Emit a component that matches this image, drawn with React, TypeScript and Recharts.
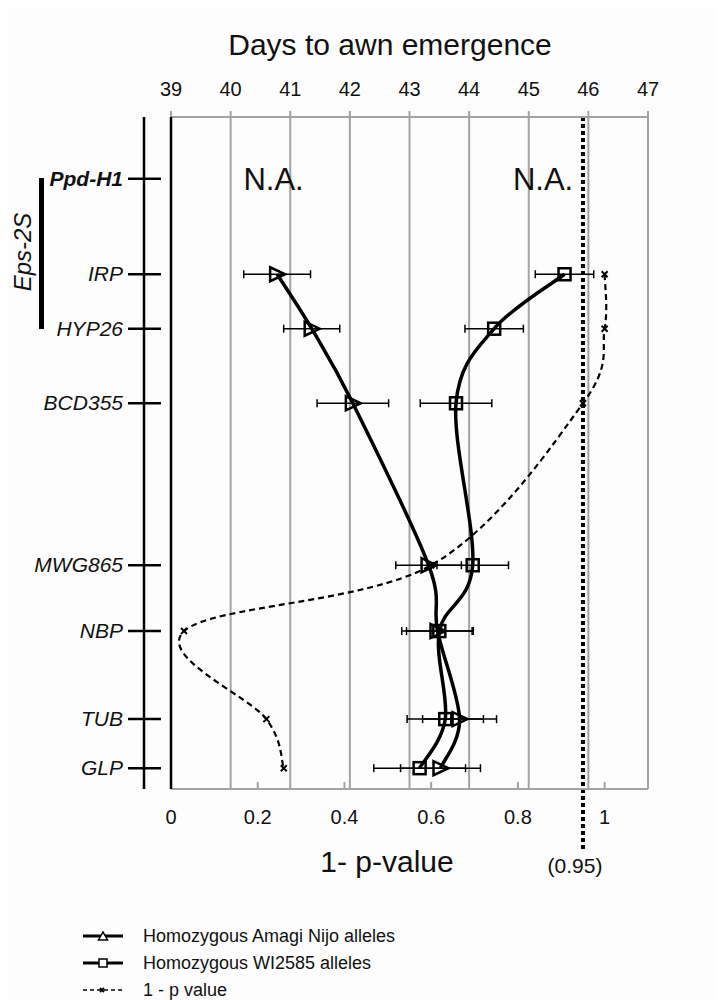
import React from "react";
import {
  CartesianGrid,
  ComposedChart,
  ErrorBar,
  Line,
  ReferenceDot,
  ReferenceLine,
  XAxis,
  YAxis,
} from "recharts";

const FONT = '"Liberation Sans", Arial, Helvetica, sans-serif';

// markers along 2S, with map position (top = 0)
const markers = ["Ppd-H1", "IRP", "HYP26", "BCD355", "MWG865", "NBP", "TUB", "GLP"];
const mapPos = [9.2, 23.4, 31.5, 42.6, 66.7, 76.5, 89.6, 96.9];

// days to awn emergence, mean and error
const amagiDays = [null, 40.78, 41.36, 42.05, 43.32, 43.47, 43.84, 43.52];
const amagiErr = [null, 0.56, 0.47, 0.6, 0.55, 0.6, 0.62, 0.67];
const wiDays = [null, 45.6, 44.42, 43.78, 44.06, 43.5, 43.6, 43.17];
const wiErr = [null, 0.49, 0.49, 0.6, 0.6, 0.55, 0.64, 0.77];

// 1 - p value of the marker test
const pScore = [null, 1.0, 1.0, 0.95, 0.6, 0.03, 0.22, 0.26];

const dayTicks = [39, 40, 41, 42, 43, 44, 45, 46, 47];
const pTicks = [0, 0.2, 0.4, 0.6, 0.8, 1];
const threshold = 0.95;

const rows = markers.map((name, i) => ({
  name,
  pos: mapPos[i],
  amagi: amagiDays[i],
  amagiErr: amagiErr[i],
  wi: wiDays[i],
  wiErr: wiErr[i],
  p: pScore[i],
}));

const GRID = "#a3a3a3";

// Catmull-Rom style smoothing (spreadsheet "smoothed line")
function smoothCurve(context: any) {
  let pts: number[][] = [];
  return {
    areaStart() {},
    areaEnd() {},
    lineStart() {
      pts = [];
    },
    point(x: number, y: number) {
      pts.push([+x, +y]);
    },
    lineEnd() {
      if (!pts.length) return;
      context.moveTo(pts[0][0], pts[0][1]);
      for (let i = 0; i < pts.length - 1; i++) {
        const p0 = pts[i - 1] || pts[i];
        const p1 = pts[i];
        const p2 = pts[i + 1];
        const p3 = pts[i + 2] || p2;
        context.bezierCurveTo(
          p1[0] + (p2[0] - p0[0]) / 6,
          p1[1] + (p2[1] - p0[1]) / 6,
          p2[0] - (p3[0] - p1[0]) / 6,
          p2[1] - (p3[1] - p1[1]) / 6,
          p2[0],
          p2[1]
        );
      }
    },
  };
}

function TriangleDot(props: any) {
  const { cx, cy, index } = props;
  if (cx == null || cy == null) return <g key={`tri-${index}`} />;
  return (
    <polygon
      key={`tri-${index}`}
      points={`${cx - 7},${cy - 7} ${cx - 7},${cy + 7} ${cx + 8},${cy}`}
      fill="none"
      stroke="#000"
      strokeWidth={2.5}
    />
  );
}

function SquareDot(props: any) {
  const { cx, cy, index } = props;
  if (cx == null || cy == null) return <g key={`sq-${index}`} />;
  return (
    <rect
      key={`sq-${index}`}
      x={cx - 6}
      y={cy - 6}
      width={12}
      height={12}
      fill="none"
      stroke="#000"
      strokeWidth={2.5}
    />
  );
}

function CrossDot(props: any) {
  const { cx, cy, index } = props;
  if (cx == null || cy == null) return <g key={`x-${index}`} />;
  return (
    <g key={`x-${index}`} stroke="#000" strokeWidth={2}>
      <line x1={cx - 3} y1={cy - 3} x2={cx + 3} y2={cy + 3} />
      <line x1={cx - 3} y1={cy + 3} x2={cx + 3} y2={cy - 3} />
    </g>
  );
}

function DayTick(props: any) {
  const { x, y, payload } = props;
  return (
    <text x={x} y={y - 11} textAnchor="middle" fontSize={20} fill="#111" fontFamily={FONT}>
      {payload.value}
    </text>
  );
}

function PTick(props: any) {
  const { x, y, payload } = props;
  return (
    <g>
      {payload.value > 0 && <line x1={x} y1={y - 7} x2={x} y2={y} stroke={GRID} strokeWidth={2} />}
      <text x={x} y={y + 35} textAnchor="middle" fontSize={20} fill="#111" fontFamily={FONT}>
        {payload.value}
      </text>
    </g>
  );
}

function MarkerTick(props: any) {
  const { x, y, payload } = props;
  const i = mapPos.indexOf(payload.value);
  const name = markers[i];
  return (
    <g>
      <line x1={x - 16} y1={y} x2={x + 17} y2={y} stroke="#000" strokeWidth={2.5} />
      <text
        x={x - 21}
        y={y + 7}
        textAnchor="end"
        fontSize={21}
        fontStyle="italic"
        fontWeight={name === "Ppd-H1" ? "bold" : "normal"}
        fill="#111"
        fontFamily={FONT}
      >
        {name}
      </text>
    </g>
  );
}

function LegendIcon({ kind }: { kind: string }) {
  if (kind === "p") {
    return (
      <svg width={44} height={14}>
        <line x1={2} y1={7} x2={42} y2={7} stroke="#000" strokeWidth={1.5} strokeDasharray="4 3" />
        <line x1={19} y1={5} x2={23} y2={9} stroke="#000" strokeWidth={1.8} />
        <line x1={19} y1={9} x2={23} y2={5} stroke="#000" strokeWidth={1.8} />
      </svg>
    );
  }
  return (
    <svg width={44} height={14}>
      <line x1={2} y1={7} x2={42} y2={7} stroke="#000" strokeWidth={3} />
      {kind === "tri" ? (
        <polygon points="17.5,11 26.5,11 22,3" fill="#fff" stroke="#000" strokeWidth={1.5} />
      ) : (
        <rect x={18} y={3} width={8} height={8} fill="#fff" stroke="#000" strokeWidth={1.5} />
      )}
    </svg>
  );
}

const legendItems = [
  { kind: "tri", text: "Homozygous Amagi Nijo alleles" },
  { kind: "sq", text: "Homozygous WI2585 alleles" },
  { kind: "p", text: "1 - p value" },
];

export default function App() {
  return (
    <div style={{ position: "relative", width: 714, height: 992, fontFamily: FONT, background: "#fdfdfd" }}>
      <ComposedChart
        width={714}
        height={880}
        data={rows}
        layout="vertical"
        margin={{ top: 69, right: 74, bottom: 59, left: 0 }}
      >
        <CartesianGrid xAxisId="days" yAxisId="map" horizontal={false} stroke={GRID} strokeWidth={2} />
        <XAxis
          xAxisId="days"
          orientation="top"
          type="number"
          domain={[39, 47]}
          ticks={dayTicks}
          allowDataOverflow
          height={40}
          tickSize={6}
          tickMargin={4}
          tick={<DayTick />}
          tickLine={{ stroke: GRID, strokeWidth: 2 }}
          axisLine={{ stroke: GRID, strokeWidth: 2 }}
        />
        <XAxis
          xAxisId="p"
          orientation="bottom"
          type="number"
          domain={[0, 1.1]}
          ticks={pTicks}
          allowDataOverflow
          height={40}
          tickSize={0}
          tickMargin={0}
          tickLine={false}
          tick={<PTick />}
          axisLine={{ stroke: GRID, strokeWidth: 2 }}
        />
        <YAxis
          yAxisId="map"
          dataKey="pos"
          type="number"
          domain={[0, 100]}
          allowDataOverflow
          width={27}
          tick={false}
          tickLine={false}
          axisLine={{ stroke: "#000", strokeWidth: 2.5 }}
        />
        <YAxis
          yAxisId="markers"
          dataKey="pos"
          type="number"
          domain={[0, 100]}
          allowDataOverflow
          ticks={mapPos}
          interval={0}
          width={136}
          tickSize={0}
          tickMargin={0}
          tickLine={false}
          tick={<MarkerTick />}
          axisLine={{ stroke: "#000", strokeWidth: 2.5 }}
        />
        <ReferenceLine
          xAxisId="p"
          yAxisId="map"
          segment={[
            { x: threshold, y: 0 },
            { x: threshold, y: 109 },
          ]}
          ifOverflow="visible"
          stroke="#000"
          strokeWidth={4}
          strokeDasharray="4 3"
        />
        <ReferenceDot
          xAxisId="days"
          yAxisId="map"
          x={40.72}
          y={mapPos[0]}
          r={0}
          fill="none"
          stroke="none"
          label={{ value: "N.A.", position: "center", fontSize: 31, fill: "#111", fontFamily: FONT }}
        />
        <ReferenceDot
          xAxisId="days"
          yAxisId="map"
          x={45.24}
          y={mapPos[0]}
          r={0}
          fill="none"
          stroke="none"
          label={{ value: "N.A.", position: "center", fontSize: 31, fill: "#111", fontFamily: FONT }}
        />
        <Line
          xAxisId="p"
          yAxisId="map"
          dataKey="p"
          type={smoothCurve as any}
          stroke="#000"
          strokeWidth={2.2}
          strokeDasharray="6 4"
          dot={CrossDot}
          activeDot={false}
          isAnimationActive={false}
        />
        <Line
          xAxisId="days"
          yAxisId="map"
          dataKey="amagi"
          type={smoothCurve as any}
          stroke="#000"
          strokeWidth={3.5}
          dot={TriangleDot}
          activeDot={false}
          isAnimationActive={false}
        >
          <ErrorBar dataKey="amagiErr" direction="x" width={4} stroke="#000" strokeWidth={1.5} />
        </Line>
        <Line
          xAxisId="days"
          yAxisId="map"
          dataKey="wi"
          type={smoothCurve as any}
          stroke="#000"
          strokeWidth={3.5}
          dot={SquareDot}
          activeDot={false}
          isAnimationActive={false}
        >
          <ErrorBar dataKey="wiErr" direction="x" width={4} stroke="#000" strokeWidth={1.5} />
        </Line>
      </ComposedChart>

      {/* axis titles and annotations */}
      <div style={{ position: "absolute", left: 382, top: 37, transform: "translate(-50%, -50%)", fontSize: 30, lineHeight: 1, whiteSpace: "nowrap", color: "#111" }}>
        Days to awn emergence
      </div>
      <div style={{ position: "absolute", left: 379, top: 854, transform: "translate(-50%, -50%)", fontSize: 30, lineHeight: 1, whiteSpace: "nowrap", color: "#111" }}>
        1- p-value
      </div>
      <div style={{ position: "absolute", left: 567, top: 857, transform: "translate(-50%, -50%)", fontSize: 21, lineHeight: 1, whiteSpace: "nowrap", color: "#111" }}>
        (0.95)
      </div>

      {/* Eps-2S bracket */}
      <div style={{ position: "absolute", left: 31, top: 170, width: 5, height: 151, background: "#000" }} />
      <div style={{ position: "absolute", left: 15, top: 244, transform: "translate(-50%, -50%) rotate(-90deg)", fontSize: 24, fontStyle: "italic", lineHeight: 1, whiteSpace: "nowrap", color: "#111" }}>
        Eps-2S
      </div>

      {/* legend */}
      <div style={{ position: "absolute", left: 73, top: 914 }}>
        {legendItems.map((item) => (
          <div key={item.kind} style={{ display: "flex", alignItems: "center", height: 27 }}>
            <LegendIcon kind={item.kind} />
            <span style={{ marginLeft: 18, fontSize: 18, lineHeight: 1, color: "#111" }}>{item.text}</span>
          </div>
        ))}
      </div>
    </div>
  );
}
